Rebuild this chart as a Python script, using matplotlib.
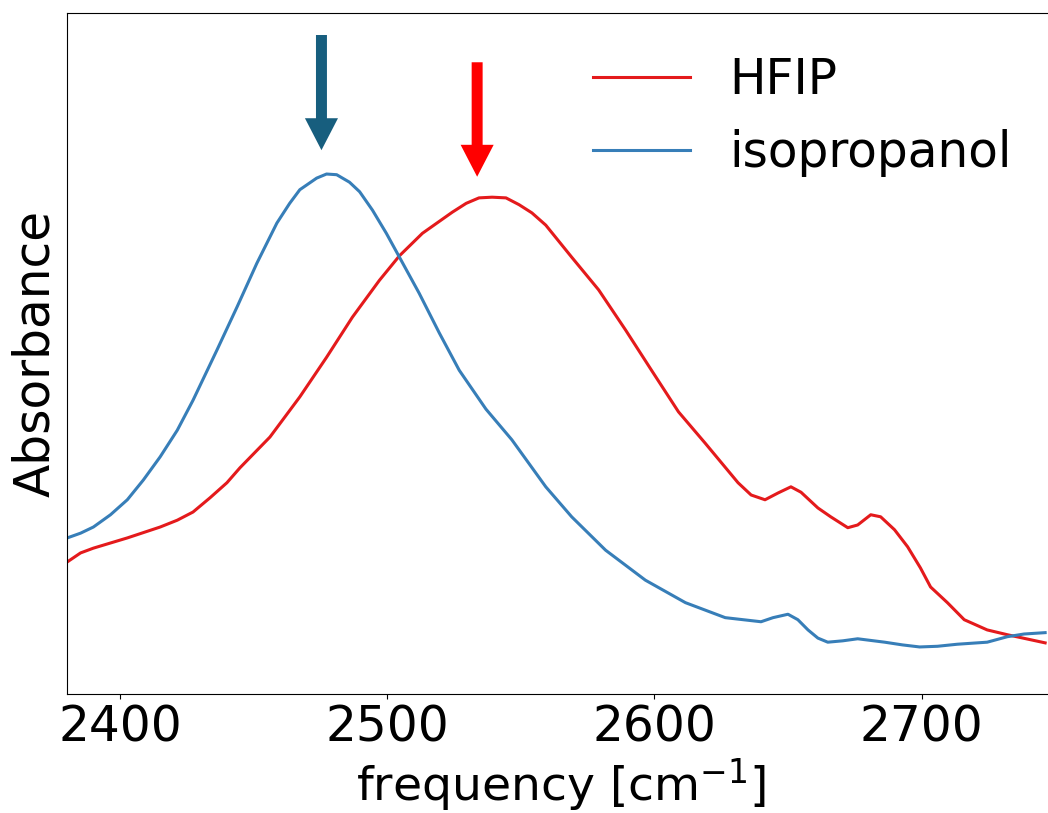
import numpy as np
import matplotlib
matplotlib.use("Agg")
import matplotlib.pyplot as plt

# Spektren, Absorbance normiert auf 0..1
freq_iso = [2380.1, 2385.1, 2389.9, 2396.3, 2402.6, 2408.6, 2414.9, 2421.3, 2427.2,
            2436.2, 2443.7, 2451.1, 2458.6, 2463.4, 2467.2, 2469.8, 2473.5, 2477.2,
            2481.0, 2485.8, 2489.6, 2494.4, 2499.6, 2504.5, 2511.9, 2519.4, 2526.9,
            2536.9, 2546.6, 2559.3, 2569.0, 2581.7, 2596.6, 2611.6, 2626.5, 2639.9,
            2644.4, 2650.0, 2653.7, 2657.5, 2661.2, 2664.9, 2670.5, 2676.1, 2686.2,
            2692.9, 2699.3, 2706.0, 2713.4, 2724.6, 2732.1, 2738.4, 2746.3]
abs_iso = [0.229, 0.236, 0.245, 0.263, 0.285, 0.314, 0.348, 0.387, 0.431,
           0.505, 0.568, 0.632, 0.691, 0.720, 0.740, 0.747, 0.757, 0.763,
           0.762, 0.751, 0.737, 0.710, 0.676, 0.641, 0.588, 0.530, 0.475,
           0.418, 0.373, 0.304, 0.260, 0.211, 0.167, 0.134, 0.112, 0.106,
           0.112, 0.117, 0.109, 0.094, 0.082, 0.076, 0.078, 0.081, 0.076,
           0.072, 0.069, 0.070, 0.073, 0.076, 0.084, 0.088, 0.090]

freq_hfip = [2380.2, 2385.1, 2389.9, 2402.6, 2414.9, 2421.3, 2427.2, 2433.6, 2439.9,
             2444.8, 2456.0, 2467.2, 2477.2, 2486.9, 2497.0, 2504.5, 2513.1, 2524.3,
             2529.5, 2534.3, 2539.2, 2544.4, 2549.3, 2554.1, 2559.3, 2569.0, 2579.1,
             2589.2, 2598.9, 2609.0, 2619.0, 2631.3, 2636.2, 2641.4, 2646.3, 2651.1,
             2654.9, 2661.2, 2666.0, 2672.4, 2676.1, 2681.0, 2684.7, 2689.9, 2694.8,
             2699.6, 2703.4, 2709.7, 2716.0, 2724.6, 2732.1, 2746.3]
abs_hfip = [0.194, 0.207, 0.214, 0.229, 0.245, 0.255, 0.267, 0.288, 0.310,
            0.332, 0.377, 0.436, 0.494, 0.553, 0.607, 0.643, 0.676, 0.707,
            0.720, 0.728, 0.729, 0.728, 0.718, 0.706, 0.688, 0.641, 0.593,
            0.534, 0.475, 0.414, 0.368, 0.310, 0.292, 0.285, 0.295, 0.304,
            0.296, 0.273, 0.260, 0.244, 0.248, 0.263, 0.260, 0.241, 0.216,
            0.185, 0.157, 0.134, 0.109, 0.094, 0.087, 0.075]

# Pfeile: (Position, Anfang, Spitze)
arrow_iso = (2475.3, 0.967, 0.798)
arrow_hfip = (2533.6, 0.927, 0.759)

fs = 35

fig = plt.figure(figsize=(10.48, 8.13), dpi=100)
ax = fig.add_axes([0.0639, 0.1464, 0.9428, 0.8382])

ax.plot(freq_hfip, abs_hfip, color='#e41a1c', lw=2.2, label='HFIP',
        solid_joinstyle='round')
ax.plot(freq_iso, abs_iso, color='#377eb8', lw=2.2, label='isopropanol',
        solid_joinstyle='round')

for (x, y0, y1), c in [(arrow_iso, '#175e7e'), (arrow_hfip, '#ff0000')]:
    ax.annotate('', xy=(x, y1), xytext=(x, y0),
                arrowprops=dict(arrowstyle='simple,head_width=23.8,head_length=23,tail_width=7.9',
                                mutation_scale=1, color=c, lw=0, shrinkA=0, shrinkB=0))

ax.set_xlim(2380, 2750)
ax.set_ylim(0, 1)
ax.set_xticks([2400, 2500, 2600, 2700])
ax.set_yticks([])
ax.tick_params(axis='x', labelsize=fs)
ax.set_xlabel('frequency [cm$^{-1}$]', fontsize=34, labelpad=3)
ax.set_ylabel('Absorbance', fontsize=fs, labelpad=6)
ax.legend(loc='upper right', frameon=False, fontsize=fs)

fig.savefig('out.png', dpi=100)
